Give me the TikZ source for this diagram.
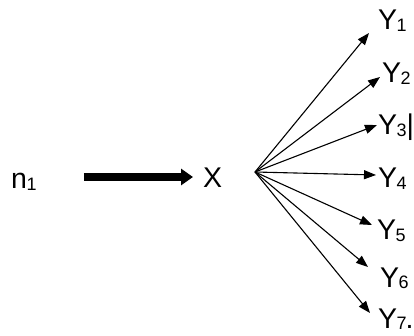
\documentclass[tikz,border=0pt]{standalone}
\usepackage{fontspec}
\setmainfont{Liberation Sans}
\usetikzlibrary{arrows.meta}
\newcommand\sbs[1]{\kern-0.5pt\raisebox{-0.04em}{\fontsize{18}{20}\selectfont #1}}
\begin{document}
\begin{tikzpicture}[x=1pt,y=-1pt,
  lbl/.style={inner sep=0pt,anchor=base west,font=\fontsize{28.5}{32}\selectfont},
  fan/.style={line width=1.1pt,-{Triangle[length=12pt,width=9pt]}},
  thick arrow/.style={line width=8pt,-{Triangle[length=12pt,width=16pt]}}]
\useasboundingbox (0,0) rectangle (414,336);
\node[lbl] (n1) at (11,189) {n\sbs{1}};
\node[lbl] (X) at (203,188) {X};
\coordinate (O) at (255,172);
\node[lbl] (Y1) at (378,30) {Y\sbs{1}};
\node[lbl] (Y2) at (382,83) {Y\sbs{2}};
\node[lbl] (Y3) at (378,135) {Y\sbs{3}|};
\node[lbl] (Y4) at (378,188) {Y\sbs{4}};
\node[lbl] (Y5) at (377,240) {Y\sbs{5}};
\node[lbl] (Y6) at (380,287) {Y\sbs{6}};
\node[lbl] (Y7) at (378,328) {Y\sbs{7}\kern-1pt.};
\coordinate (t1) at (369,33);
\coordinate (t2) at (380,77);
\coordinate (t3) at (377,125);
\coordinate (t4) at (376,175);
\coordinate (t5) at (372,225);
\coordinate (t6) at (368,267);
\coordinate (t7) at (370,313);
\draw[thick arrow] ([xshift=47pt]n1.east |- 0,177) -- ([xshift=-10pt]X.west |- 0,177);
\foreach \i in {1,...,7} \draw[fan] (O) -- (t\i);
\end{tikzpicture}
\end{document}
